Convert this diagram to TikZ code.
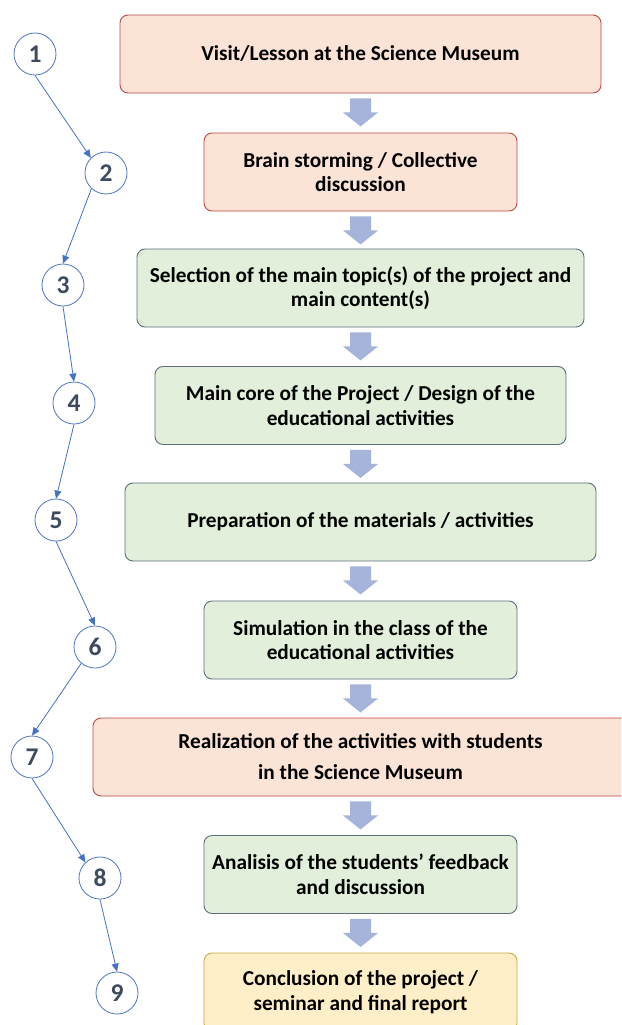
\documentclass[tikz,border=0pt]{standalone}
\usepackage{fontspec}
\setmainfont{Carlito}
\usetikzlibrary{arrows.meta,calc}
\definecolor{redfill}{RGB}{251,228,214}
\definecolor{redline}{RGB}{188,74,72}
\definecolor{greenfill}{RGB}{226,239,218}
\definecolor{greenline}{RGB}{96,110,124}
\definecolor{yellowfill}{RGB}{255,239,200}
\definecolor{yellowline}{RGB}{204,168,72}
\definecolor{arrowc}{RGB}{166,180,219}
\definecolor{circc}{RGB}{80,118,196}
\definecolor{numc}{RGB}{62,74,94}
\definecolor{linec}{RGB}{68,114,196}
\tikzset{
  box/.style={rectangle, rounded corners=8pt, line width=0.9pt, align=center,
    font=\fontsize{21.3}{24.5}\selectfont\bfseries, minimum height=78pt, inner sep=0pt, text=black},
  redbox/.style={box, draw=redline, fill=redfill},
  greenbox/.style={box, draw=greenline, fill=greenfill},
  yellowbox/.style={box, draw=yellowline, fill=yellowfill},
  num/.style={circle, draw=circc, line width=0.8pt, minimum size=42pt, inner sep=0pt,
    font=\fontsize{25.5}{25.5}\selectfont\bfseries, text=numc, fill=white},
  conn/.style={draw=linec, line width=0.8pt, -{Triangle[length=8pt,width=7pt]}},
  downarr/.pic={\fill[arrowc] (-10.5,5) -- (10.5,5) -- (10.5,19) -- (17.5,19) -- (0,33) -- (-17.5,19) -- (-10.5,19) -- cycle;}
}
\begin{document}
\begin{tikzpicture}[x=1pt,y=-1pt]
\useasboundingbox (0,0) rectangle (621,1025);
\clip (0,0) rectangle (621,1025);
\fill[white] (0,0) rectangle (621,1025);
% boxes
\node[redbox, minimum width=481pt] (b1) at (360.5,54) {Visit/Lesson at the Science Museum};
\node[redbox, minimum width=313pt] (b2) at (360.5,172) {Brain storming / Collective\\discussion};
\node[greenbox, minimum width=447pt] (b3) at (360.5,288) {Selection of the main topic(s) of the project and\\main content(s)};
\node[greenbox, minimum width=411pt] (b4) at (360.5,405.5) {Main core of the Project / Design of the\\educational activities};
\node[greenbox, minimum width=471pt] (b5) at (360.5,522) {Preparation of the materials / activities};
\node[greenbox, minimum width=313pt] (b6) at (360.5,640) {Simulation in the class of the\\educational activities};
\node[redbox, minimum width=535pt, font=\fontsize{21.3}{31}\selectfont\bfseries] (b7) at (360.5,757) {Realization of the activities with students\\in the Science Museum};
\node[greenbox, minimum width=313pt] (b8) at (360.5,874.5) {Analisis of the students’ feedback\\and discussion};
\node[yellowbox, minimum width=313pt] (b9) at (360.5,992) {Conclusion of the project /\\seminar and final report};
% block arrows
\foreach \b in {b1,b2,b3,b4,b5,b6,b7,b8}{\pic at (\b.south) {downarr};}
% circles
\node[num] (c1) at (35,54) {1};
\node[num] (c2) at (106,173) {2};
\node[num] (c3) at (63,285) {3};
\node[num] (c4) at (74,403) {4};
\node[num] (c5) at (56,520) {5};
\node[num] (c6) at (95,647) {6};
\node[num] (c7) at (32,757) {7};
\node[num] (c8) at (100,878) {8};
\node[num] (c9) at (117,993) {9};
% connectors
\draw[conn] (c1.south) -- (c2.135);
\draw[conn] (c2.227) -- (c3.north);
\draw[conn] (c3.south) -- (c4.north);
\draw[conn] (c4.south) -- (c5.north);
\draw[conn] (c5.south) -- (c6.north);
\draw[conn] (c6.230) -- (c7.north);
\draw[conn] (c7.south) -- (c8.133);
\draw[conn] (c8.south) -- (c9.north);
\end{tikzpicture}
\end{document}
